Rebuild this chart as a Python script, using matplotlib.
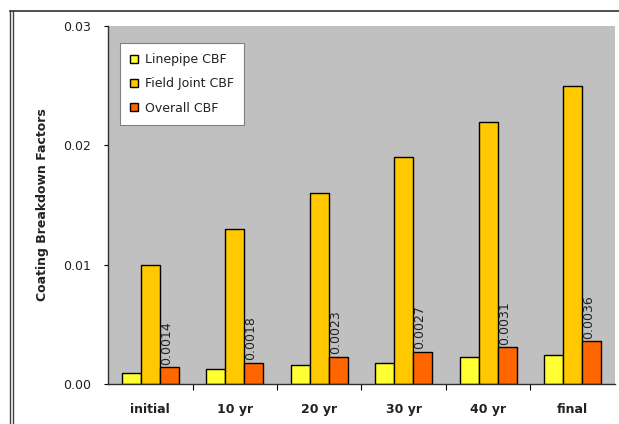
import matplotlib
matplotlib.use("Agg")
import matplotlib.pyplot as plt
from matplotlib.lines import Line2D
import numpy as np

plt.rcParams['font.family'] = ['DejaVu Sans']

categories = ["initial", "10 yr", "20 yr", "30 yr", "40 yr", "final"]
linepipe_cbf = [0.0009, 0.0013, 0.0016, 0.0018, 0.0023, 0.0024]
field_joint_cbf = [0.0100, 0.0130, 0.0160, 0.0190, 0.0220, 0.0250]
overall_cbf = [0.0014, 0.0018, 0.0023, 0.0027, 0.0031, 0.0036]
overall_labels = ["0.0014", "0.0018", "0.0023", "0.0027", "0.0031", "0.0036"]
y_ticks = [0.00, 0.01, 0.02, 0.03]
y_tick_labels = ["0.00", "0.01", "0.02", "0.03"]

text_color = "#222222"

fig = plt.figure(figsize=(6.19, 4.24), dpi=100, facecolor="white")
ax = fig.add_axes([0.1745, 0.0943, 0.819, 0.844])
ax.set_facecolor("#C0C0C0")

x = np.arange(len(categories))
w = 0.225
ax.bar(x - w, linepipe_cbf, w, color="#FFFF33", edgecolor="black", linewidth=1.0, label="Linepipe CBF")
ax.bar(x, field_joint_cbf, w, color="#FFC800", edgecolor="black", linewidth=1.0, label="Field Joint CBF")
ax.bar(x + w, overall_cbf, w, color="#FF6600", edgecolor="black", linewidth=1.0, label="Overall CBF")

for xi, v, txt in zip(x, overall_cbf, overall_labels):
    ax.text(xi + w - 0.035, v + 0.0002, txt, rotation=90, ha="center", va="bottom",
            fontsize=9, color=text_color)

ax.set_xlim(-0.5, 5.5)
ax.set_ylim(0, 0.03)
ax.set_yticks(y_ticks)
ax.set_yticklabels(y_tick_labels, fontsize=9, color=text_color)
ax.set_xticks(x)
ax.set_xticklabels(categories, fontsize=9, fontweight="bold", color=text_color)
ax.set_xticks(np.arange(0.5, 5.5, 1.0), minor=True)
ax.tick_params(axis="x", which="major", length=0, pad=14)
ax.tick_params(axis="x", which="minor", length=4, width=0.8, direction="out")
ax.tick_params(axis="y", length=3, width=0.8, direction="out", pad=9)
ax.set_ylabel("Coating Breakdown Factors", fontsize=9, fontweight="bold", labelpad=10,
              color=text_color)

for side in ("top", "right"):
    ax.spines[side].set_visible(False)
for side in ("left", "bottom"):
    ax.spines[side].set_color("#303030")
    ax.spines[side].set_linewidth(1.0)

leg = ax.legend(loc="upper left", bbox_to_anchor=(0.0237, 0.9525), borderaxespad=0,
                fontsize=9, frameon=True, fancybox=False, borderpad=0.8, labelspacing=0.9,
                handlelength=0.6, handleheight=0.6, handletextpad=0.6,
                edgecolor="#808080", framealpha=1.0)
leg.get_frame().set_linewidth(0.8)
for t in leg.get_texts():
    t.set_color(text_color)

# outer frame of the figure
fig.add_artist(Line2D([10 / 619, 10 / 619], [0, 1 - 11 / 424], color="#404040", lw=1.0))
fig.add_artist(Line2D([13 / 619, 13 / 619], [0, 1 - 11 / 424], color="#404040", lw=1.0))
fig.add_artist(Line2D([10 / 619, 1], [1 - 11 / 424, 1 - 11 / 424], color="#303030", lw=1.2))

fig.savefig("out.png", dpi=100, facecolor="white")
